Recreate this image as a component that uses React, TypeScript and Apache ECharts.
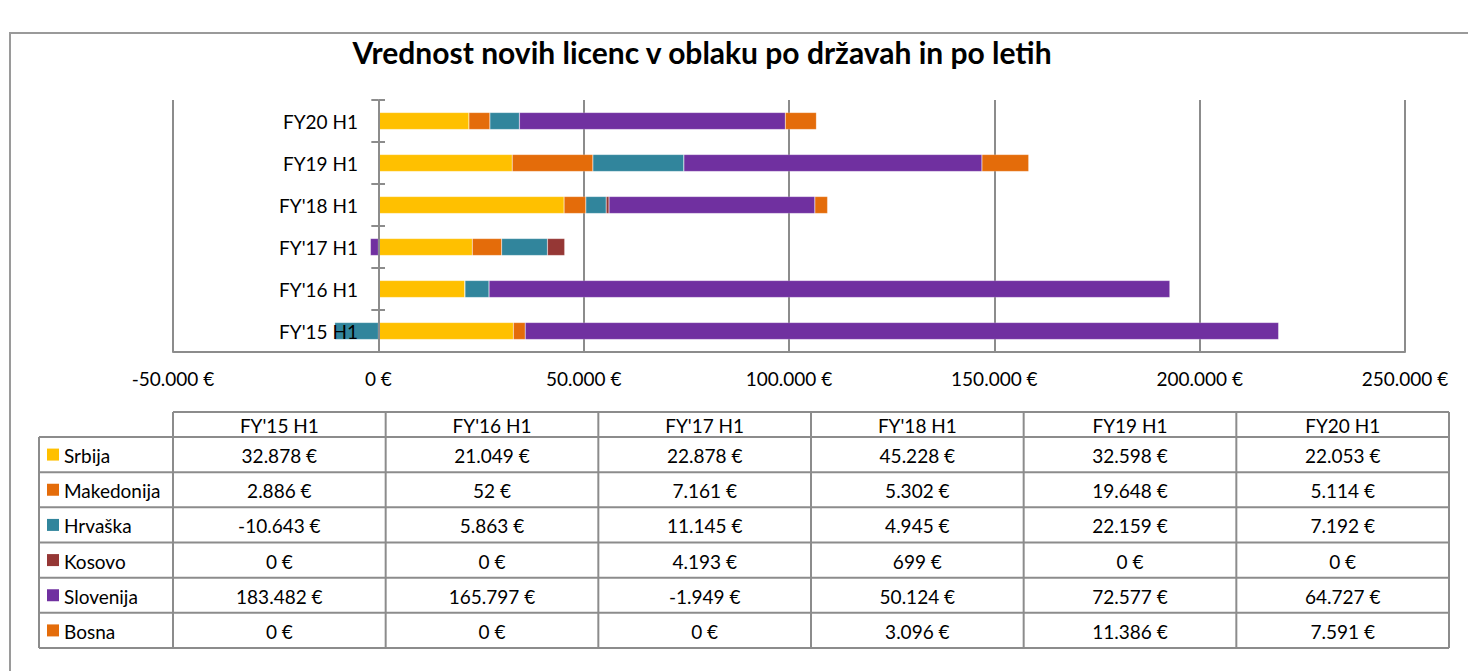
import React, { useEffect, useRef } from "react";
import * as echarts from "echarts";

const categories = ["FY'15 H1", "FY'16 H1", "FY'17 H1", "FY'18 H1", "FY19 H1", "FY20 H1"];
const seriesNames = ["Srbija", "Makedonija", "Hrvaška", "Kosovo", "Slovenija", "Bosna"];
const srbija = [32878, 21049, 22878, 45228, 32598, 22053];
const makedonija = [2886, 52, 7161, 5302, 19648, 5114];
const hrvaska = [-10643, 5863, 11145, 4945, 22159, 7192];
const kosovo = [0, 0, 4193, 699, 0, 0];
const slovenija = [183482, 165797, -1949, 50124, 72577, 64727];
const bosna = [0, 0, 0, 3096, 11386, 7591];
const seriesColors = ["#FFC000", "#E46C0A", "#31859C", "#953735", "#7030A0", "#E46C0A"];
const titleText = "Vrednost novih licenc v oblaku po državah in po letih";

const seriesData = [srbija, makedonija, hrvaska, kosovo, slovenija, bosna];

function fmt(v: number): string {
  const neg = v < 0;
  const s = Math.abs(Math.round(v)).toString().replace(/\B(?=(\d{3})+(?!\d))/g, ".");
  return (neg ? "-" : "") + s + " €";
}

const FONT = "Lato, 'Open Sans', sans-serif";
const LINE = "#8c8c8c";
const FS = 19;

export default function App() {
  const ref = useRef<HTMLDivElement>(null);
  useEffect(() => {
    if (!ref.current) return;
    const chart = echarts.init(ref.current, null, { renderer: "svg" });

    const gridLeft = 173;
    const gridRight = 1405;
    const gridTop = 100;
    const gridBottom = 352;

    // table geometry
    const tLeft = 39;
    const tLegendRight = 173;
    const tRight = 1449;
    const hTop = 412;
    const hBottom = 437;
    const rowH = (648 - 437) / 6;
    const colW = (tRight - tLegendRight) / 6;
    const tBottom = hBottom + rowH * 6;

    const g: any[] = [];
    // frame
    g.push({
      type: "rect",
      shape: { x: 10, y: 33, width: 1480, height: 700 },
      style: { fill: "none", stroke: "#9a9a9a", lineWidth: 2 },
      silent: true,
    });
    g.push({
      type: "text",
      x: 702,
      y: 52,
      style: {
        text: titleText,
        font: `bold 30px ${FONT}`,
        fill: "#000",
        align: "center",
        verticalAlign: "middle",
      },
    });

    const ln = (x1: number, y1: number, x2: number, y2: number) =>
      g.push({
        type: "line",
        shape: { x1, y1, x2, y2 },
        style: { stroke: LINE, lineWidth: 2 },
        silent: true,
      });

    // crossing ticks extension on the category axis (right side of axis)
    for (let i = 0; i <= 6; i++) {
      const y = gridTop + ((gridBottom - gridTop) / 6) * i;
      ln(379, y, 385, y);
    }

    // header horizontal top
    ln(tLegendRight, hTop, tRight, hTop);
    // horizontal row lines
    for (let i = 0; i <= 6; i++) {
      const y = hBottom + rowH * i;
      ln(tLeft, y, tRight, y);
    }
    // verticals
    ln(tLeft, hBottom, tLeft, tBottom);
    for (let c = 0; c <= 6; c++) {
      const x = tLegendRight + colW * c;
      ln(x, hTop, x, tBottom);
    }
    // header texts
    categories.forEach((cat, c) => {
      g.push({
        type: "text",
        x: tLegendRight + colW * (c + 0.5),
        y: (hTop + hBottom) / 2 + 1,
        style: { text: cat, font: `${FS}px ${FONT}`, fill: "#000", align: "center", verticalAlign: "middle" },
      });
    });
    // rows
    seriesNames.forEach((name, r) => {
      const cy = hBottom + rowH * (r + 0.5);
      g.push({
        type: "rect",
        shape: { x: 47, y: cy - 6, width: 12, height: 12 },
        style: { fill: seriesColors[r] },
      });
      g.push({
        type: "text",
        x: 64,
        y: cy + 1,
        style: { text: name, font: `${FS}px ${FONT}`, fill: "#000", align: "left", verticalAlign: "middle" },
      });
      seriesData[r].forEach((v, c) => {
        g.push({
          type: "text",
          x: tLegendRight + colW * (c + 0.5),
          y: cy + 1,
          style: { text: fmt(v), font: `${FS}px ${FONT}`, fill: "#000", align: "center", verticalAlign: "middle" },
        });
      });
    });

    const option: any = {
      animation: false,
      backgroundColor: "#fff",
      grid: {
        left: gridLeft,
        right: 1468 - gridRight,
        top: gridTop,
        bottom: 671 - gridBottom,
        containLabel: false,
      },
      xAxis: {
        type: "value",
        min: -50000,
        max: 250000,
        interval: 50000,
        axisLine: { show: true, onZero: false, lineStyle: { color: LINE, width: 2 } },
        axisTick: { show: false },
        splitLine: { show: true, lineStyle: { color: LINE, width: 2 } },
        axisLabel: {
          formatter: (v: number) => fmt(v),
          color: "#000",
          fontFamily: FONT,
          fontSize: FS,
          margin: 17,
        },
      },
      yAxis: {
        type: "category",
        data: categories,
        z: 5,
        axisLine: { show: true, onZero: true, lineStyle: { color: LINE, width: 2 } },
        axisTick: { show: true, length: 7, lineStyle: { color: LINE, width: 2 } },
        axisLabel: {
          color: "#000",
          fontFamily: FONT,
          fontSize: FS,
          margin: -185,
          overflow: "none",
          width: 200,
        },
        splitLine: { show: false },
      },
      series: seriesNames.map((name, i) => ({
        name,
        type: "bar",
        stack: "total",
        data: seriesData[i],
        barWidth: 17,
        itemStyle: { color: seriesColors[i], borderColor: "rgba(255,255,255,0.35)", borderWidth: 0.5 },
      })),
      graphic: g,
    };
    chart.setOption(option);
    return () => chart.dispose();
  }, []);
  return (
    <div
      ref={ref}
      style={{ position: "fixed", left: 0, top: 0, width: 1468, height: 671, background: "#fff" }}
    />
  );
}
